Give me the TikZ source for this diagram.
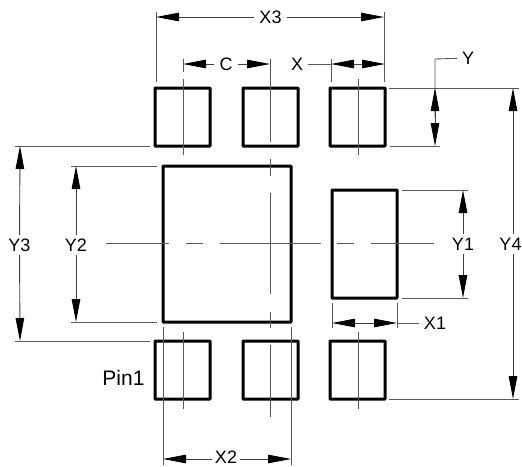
\documentclass[tikz,border=0pt]{standalone}
\usepackage{fontspec}
\setmainfont{Liberation Sans}
\usetikzlibrary{arrows.meta}
\begin{document}
\begin{tikzpicture}[
        x=1pt, y=-1pt,
        pad/.style={draw, line width=3pt, rounded corners=0.5pt},
        dimline/.style={line width=0.9pt, draw=black!65},
        dimarrow/.style={line width=0.9pt, draw=black!75, -{Triangle[length=23pt, width=8.5pt, fill=black, color=black]}},
        label/.style={inner xsep=5pt, inner ysep=3.5pt, font=\fontsize{18}{20}\selectfont}
    ]
        \useasboundingbox (0,0) rectangle (522,466);

        % Pads
        \draw[pad] (155,88) rectangle (210,146);
        \draw[pad] (243,88) rectangle (298,146);
        \draw[pad] (330,88) rectangle (385,146);
        \draw[pad] (155,341) rectangle (210,399);
        \draw[pad] (243,341) rectangle (298,399);
        \draw[pad] (330,341) rectangle (385,399);
        \draw[pad] (163,166) rectangle (291,322);
        \draw[pad] (332,190) rectangle (397,298);

        % Center lines
        \draw[dimline] (183,79) -- (183,155);
        \draw[dimline] (270,59) -- (270,142) (270,159) -- (270,176) (270,193) -- (270,294) (270,312) -- (270,328);
        \draw[dimline] (358,79) -- (358,155);
        \draw[dimline] (183,332) -- (183,409);
        \draw[dimline] (270,345) -- (270,417);
        \draw[dimline] (358,332) -- (358,409);
        \draw[dimline] (106,243) -- (169,243) (186,243) -- (203,243) (220,243) -- (321,243) (337,243) -- (354,243) (371,243) -- (434,243);

        % Extension lines
        \draw[dimline] (156,12) -- (156,82) (384,12) -- (384,82);
        \draw[dimline] (183,59) -- (183,72) (331,59) -- (331,82);
        \draw[dimline] (389,88) -- (519,88) (390,146) -- (440,146) (389,399) -- (519,399);
        \draw[dimline] (15,146) -- (150,146) (15,341) -- (150,341);
        \draw[dimline] (71,166) -- (157,166) (71,322) -- (157,322);
        \draw[dimline] (402,190) -- (468,190) (402,298) -- (468,298);
        \draw[dimline] (332,303) -- (332,328) (397,303) -- (397,328);
        \draw[dimline] (163,327) -- (163,465) (291,327) -- (291,465);

        % Labels
        \node[label] (lblx3) at (270.5,17) {X3};
        \node[label] (lblc) at (226,64) {C};
        \node[label] (lblx) at (297,64) {X};
        \node[label] (lbly) at (468,58) {Y};
        \node[label, inner xsep=0pt] (lbly4) at (510.5,244) {Y4};
        \node[label] (lbly3) at (19.5,245) {Y3};
        \node[label] (lbly2) at (76,245) {Y2};
        \node[label] (lbly1) at (463,244) {Y1};
        \node[label] (lblxone) at (435,323) {X1};
        \node[label, inner ysep=0pt] (lblx2) at (226,457) {X2};
        \node[label, font=\fontsize{21}{23}\selectfont] (lblpin) at (123.5,378) {Pin1};
        \coordinate (y4up) at (513,234);
        \coordinate (y4down) at (513,254);
        \coordinate (x2left) at (212,459);
        \coordinate (x2right) at (240,459);

        % Arrows
        \draw[dimarrow] (lblx3) -- (156,17);
        \draw[dimarrow] (lblx3) -- (384,17);
        \draw[dimarrow] (lblc) -- (183,64);
        \draw[dimarrow] (lblc) -- (270,64);
        \draw[dimline] (lblx) -- (331,64);
        \draw[dimarrow] (358,64) -- (331,64);
        \draw[dimarrow] (358,64) -- (385,64);
        \draw[dimline] (lbly) -- (435,59) -- (435,117);
        \draw[dimarrow] (435,117) -- (435,88);
        \draw[dimarrow] (435,117) -- (435,146);
        \draw[dimarrow] (y4up) -- (513,88);
        \draw[dimarrow] (y4down) -- (513,399);
        \draw[dimarrow] (lbly3) -- (20,146);
        \draw[dimarrow] (lbly3) -- (20,341);
        \draw[dimarrow] (lbly2) -- (76,166);
        \draw[dimarrow] (lbly2) -- (76,322);
        \draw[dimarrow] (lbly1) -- (463,190);
        \draw[dimarrow] (lbly1) -- (463,298);
        \draw[dimline] (lblxone) -- (397,323);
        \draw[dimarrow] (364,323) -- (332,323);
        \draw[dimarrow] (364,323) -- (397,323);
        \draw[dimarrow] (x2left) -- (163,459);
        \draw[dimarrow] (x2right) -- (291,459);
    \end{tikzpicture}
\end{document}
